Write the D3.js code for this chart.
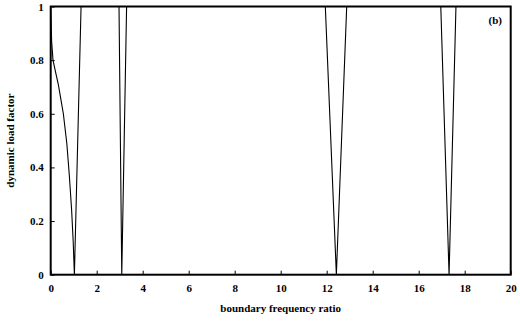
<!DOCTYPE html>
<html>
<head>
<meta charset="utf-8">
<script src="https://cdn.jsdelivr.net/npm/d3@7"></script>
<style>
  html, body { margin: 0; padding: 0; background: #fff; }
  svg { display: block; }
  text { font-family: "Liberation Serif", "Times New Roman", serif; font-weight: bold; fill: #000; }
</style>
</head>
<body>
<svg id="chart" width="520" height="324"></svg>
<script>
// Dynamic load factor against boundary frequency ratio
const ratio = [0, 0.04, 0.1, 0.2, 0.33, 0.45, 0.55, 0.7, 0.81, 0.91, 0.98, 1.03, 1.32,
               2.97, 3.09, 3.30, 11.94, 12.42, 12.87, 16.96, 17.32, 17.62, 20];
const loadFactor = [1, 0.87, 0.8, 0.76, 0.71, 0.65, 0.6, 0.49, 0.37, 0.24, 0.12, 0, 1,
                    1, 0, 1, 1, 0, 1, 1, 0, 1, 1];
const xTicks = [0, 2, 4, 6, 8, 10, 12, 14, 16, 18, 20];
const yTicks = [0, 0.2, 0.4, 0.6, 0.8, 1];

const svg = d3.select("#chart");
const margin = { left: 50.7, right: 9.3, top: 6.5, bottom: 49.3 };
const W = 520, H = 324;

const x = d3.scaleLinear().domain([0, 20]).range([margin.left, W - margin.right]);
const y = d3.scaleLinear().domain([0, 1]).range([H - margin.bottom, margin.top]);

// curve
const pts = ratio.map((r, i) => [r, loadFactor[i]]);
svg.append("path")
  .datum(pts)
  .attr("fill", "none")
  .attr("stroke", "#000")
  .attr("stroke-width", 1.1)
  .attr("d", d3.line().x(d => x(d[0])).y(d => y(d[1])));

// axes with inward ticks
const xAxis = svg.append("g")
  .attr("transform", `translate(0,${y(0)})`)
  .call(d3.axisBottom(x).tickValues(xTicks).tickFormat(d3.format("d")).tickSize(-4).tickPadding(10));
const yAxis = svg.append("g")
  .attr("transform", `translate(${x(0)},0)`)
  .call(d3.axisLeft(y).tickValues(yTicks).tickFormat(d => d === 0 || d === 1 ? d3.format("d")(d) : d3.format(".1f")(d)).tickSize(-4).tickPadding(7));

[xAxis, yAxis].forEach(g => {
  g.select(".domain").remove();
  g.selectAll(".tick line").attr("stroke", "#000").attr("stroke-width", 1);
  g.selectAll(".tick text").style("font-size", "11px").style("font-family", "Liberation Serif, serif").style("font-weight", "bold");
});

// frame
svg.append("rect")
  .attr("x", x(0)).attr("y", y(1))
  .attr("width", x(20) - x(0)).attr("height", y(0) - y(1))
  .attr("fill", "none").attr("stroke", "#000").attr("stroke-width", 2);

// titles
svg.append("text")
  .attr("x", (x(0) + x(20)) / 2).attr("y", 312)
  .attr("text-anchor", "middle").style("font-size", "11px")
  .text("boundary frequency ratio");
svg.append("text")
  .attr("transform", `translate(14,${(y(0) + y(1)) / 2}) rotate(-90)`)
  .attr("text-anchor", "middle").style("font-size", "11px")
  .text("dynamic load factor");

// panel label
svg.append("text")
  .attr("x", 502).attr("y", 24)
  .attr("text-anchor", "end").style("font-size", "11px")
  .text("(b)");
</script>
</body>
</html>
